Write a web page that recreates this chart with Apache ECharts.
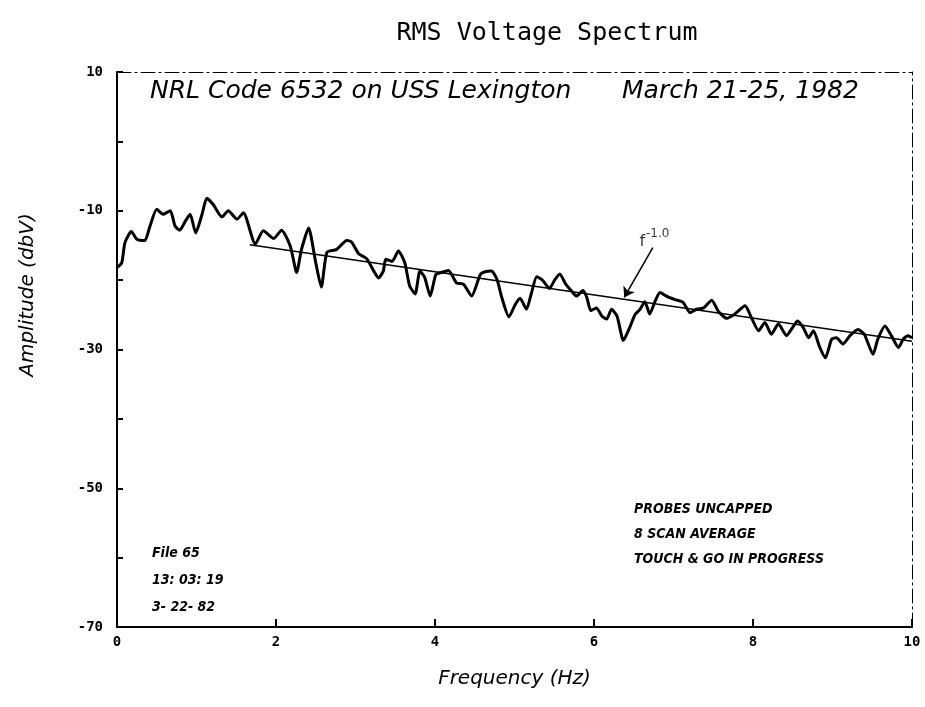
<!DOCTYPE html>
<html>
<head>
<meta charset="utf-8">
<script src="https://cdn.jsdelivr.net/npm/echarts@6/dist/echarts.min.js"></script>
<style>
  html, body { margin: 0; padding: 0; background: #fff; }
  #chart { width: 925px; height: 707px; }
</style>
</head>
<body>
<div id="chart"></div>
<script>
// spectrum: frequency (Hz) and amplitude (dBV)
const freqs = [
  0.00, 0.06, 0.10, 0.18, 0.25, 0.35, 0.41, 0.50, 0.58, 0.67,
  0.73, 0.79, 0.86, 0.92, 0.99, 1.07, 1.13, 1.21, 1.32, 1.40,
  1.51, 1.59, 1.74, 1.84, 1.97, 2.07, 2.18, 2.26, 2.32, 2.41,
  2.50, 2.57, 2.64, 2.76, 2.89, 2.95, 3.04, 3.14, 3.23, 3.29,
  3.35, 3.38, 3.46, 3.54, 3.62, 3.68, 3.75, 3.81, 3.87, 3.94,
  4.01, 4.08, 4.17, 4.27, 4.36, 4.46, 4.57, 4.63, 4.71, 4.78,
  4.84, 4.93, 5.01, 5.07, 5.15, 5.21, 5.28, 5.36, 5.44, 5.51,
  5.57, 5.64, 5.72, 5.78, 5.86, 5.91, 5.96, 6.03, 6.10, 6.16,
  6.22, 6.29, 6.37, 6.45, 6.52, 6.58, 6.64, 6.70, 6.77, 6.83,
  6.91, 7.02, 7.12, 7.21, 7.29, 7.38, 7.48, 7.57, 7.67, 7.77,
  7.90, 7.98, 8.07, 8.15, 8.23, 8.32, 8.42, 8.50, 8.56, 8.63,
  8.70, 8.76, 8.84, 8.91, 8.99, 9.05, 9.13, 9.22, 9.32, 9.40,
  9.51, 9.57, 9.66, 9.74, 9.83, 9.89, 9.95, 10.0
];
const amps = [
  -18.2, -17.5, -14.6, -13.0, -14.1, -14.3, -12.4, -9.8, -10.5, -10.0,
  -12.2, -12.8, -11.5, -10.5, -13.2, -10.5, -8.2, -9.1, -10.9, -10.0,
  -11.2, -10.3, -14.8, -12.9, -14.0, -12.8, -15.1, -18.9, -15.6, -12.5,
  -17.5, -21.0, -16.0, -15.6, -14.3, -14.5, -16.2, -16.9, -18.7, -19.7,
  -18.7, -17.0, -17.3, -15.8, -17.5, -20.8, -22.0, -18.7, -19.6, -22.3,
  -19.2, -18.9, -18.6, -20.4, -20.6, -22.3, -19.2, -18.8, -18.7, -19.9,
  -22.5, -25.3, -23.5, -22.6, -24.2, -22.0, -19.5, -20.1, -21.2, -19.9,
  -19.1, -20.5, -21.6, -22.3, -21.5, -22.5, -24.4, -24.0, -25.2, -25.6,
  -24.2, -25.2, -28.7, -26.8, -24.9, -24.2, -23.1, -24.9, -23.0, -21.8,
  -22.3, -22.8, -23.2, -24.7, -24.2, -24.0, -22.9, -24.6, -25.5, -24.9,
  -23.7, -25.4, -27.3, -26.1, -27.8, -26.3, -28.0, -26.8, -25.9, -26.8,
  -28.3, -27.3, -29.7, -31.2, -28.5, -28.3, -29.2, -28.0, -27.1, -27.8,
  -30.7, -28.5, -26.6, -28.0, -29.7, -28.5, -28.0, -28.3
];

// f^-1.0 reference line end points
const fitFreqs = [1.67, 10.0];
const fitAmps = [-14.9, -28.8];

// arrow pointing at the reference line, and its label anchor
const arrowFrom = [6.74, -15.3];
const arrowTo = [6.38, -22.5];
const fitLabelAt = [6.76, -14.0];

const xTicks = [0, 2, 4, 6, 8, 10];
const yLabels = [10, -10, -30, -50, -70];

const chart = echarts.init(document.getElementById('chart'));

const spectrum = freqs.map((f, i) => [f, amps[i]]);
const fitLine = fitFreqs.map((f, i) => [f, fitAmps[i]]);

const labelFont = { color: '#000', fontFamily: 'DejaVu Sans Mono', fontWeight: 'bold', fontSize: 14 };
const noteFont = 'italic bold 14px "Liberation Sans Narrow", "DejaVu Sans Condensed", sans-serif';
const dashBorder = { color: '#000', width: 1, type: [14, 4, 2, 4] };

const option = {
  backgroundColor: '#ffffff',
  animation: false,
  title: {
    text: 'RMS Voltage Spectrum',
    left: 542,
    top: 16,
    textAlign: 'center',
    textStyle: { color: '#000', fontFamily: 'DejaVu Sans Mono', fontWeight: 'normal', fontSize: 25 }
  },
  grid: { left: 117, right: 13, top: 72, bottom: 80 },
  xAxis: [
    {
      type: 'value',
      min: 0,
      max: 10,
      interval: 2,
      axisLine: { onZero: false, lineStyle: { color: '#000', width: 2 } },
      axisTick: { inside: true, length: 8, lineStyle: { color: '#000', width: 2 } },
      axisLabel: Object.assign({ margin: 8, formatter: v => xTicks.includes(v) ? String(v) : '' }, labelFont),
      splitLine: { show: false },
      name: 'Frequency (Hz)',
      nameLocation: 'middle',
      nameGap: 42,
      nameTextStyle: { color: '#000', fontFamily: 'DejaVu Sans', fontStyle: 'italic', fontSize: 20 }
    },
    {
      type: 'value',
      position: 'top',
      min: 0,
      max: 10,
      axisLine: { show: true, onZero: false, lineStyle: dashBorder },
      axisTick: { show: false },
      axisLabel: { show: false },
      splitLine: { show: false }
    }
  ],
  yAxis: [
    {
      type: 'value',
      min: -70,
      max: 10,
      interval: 10,
      axisLine: { show: true, onZero: false, lineStyle: { color: '#000', width: 2 } },
      axisTick: { show: true, inside: true, length: 6, lineStyle: { color: '#000', width: 2 } },
      axisLabel: Object.assign({ margin: 14, formatter: v => yLabels.includes(v) ? String(v) : '' }, labelFont),
      splitLine: { show: false }
    },
    {
      type: 'value',
      position: 'right',
      min: -70,
      max: 10,
      axisLine: { show: true, onZero: false, lineStyle: dashBorder },
      axisTick: { show: false },
      axisLabel: { show: false },
      splitLine: { show: false }
    }
  ],
  series: [
    {
      name: 'Spectrum',
      type: 'line',
      data: spectrum,
      smooth: 0.2,
      showSymbol: false,
      lineStyle: { color: '#000', width: 3 }
    },
    {
      name: 'f^-1.0',
      type: 'line',
      data: fitLine,
      showSymbol: false,
      lineStyle: { color: '#000', width: 1.5 },
      markLine: {
        silent: true,
        symbol: ['none', 'arrow'],
        symbolSize: 10,
        label: { show: false },
        lineStyle: { color: '#000', width: 1.5, type: 'solid' },
        data: [[{ coord: arrowFrom }, { coord: arrowTo }]]
      }
    },
    {
      name: 'fit label',
      type: 'scatter',
      data: [fitLabelAt],
      symbolSize: 0,
      label: {
        show: true,
        position: 'inside',
        formatter: '{f|f}{s|-1.0}',
        rich: {
          f: { fontFamily: 'DejaVu Sans', fontSize: 16, color: '#000', verticalAlign: 'bottom' },
          s: { fontFamily: 'DejaVu Sans', fontSize: 12, color: '#000', verticalAlign: 'top', padding: [0, 0, 10, 1] }
        }
      }
    }
  ],
  graphic: [
    {
      type: 'text',
      x: 28, y: 295,
      rotation: Math.PI / 2,
      style: { text: 'Amplitude (dbV)', font: 'italic 20px "DejaVu Sans"', fill: '#000', align: 'center', verticalAlign: 'middle' }
    },
    {
      type: 'text', left: 150, top: 79,
      style: { text: 'NRL Code 6532 on USS Lexington', font: 'italic 25px "DejaVu Sans"', fill: '#000' }
    },
    {
      type: 'text', left: 622, top: 79,
      style: { text: 'March 21-25, 1982', font: 'italic 25px "DejaVu Sans"', fill: '#000' }
    },
    { type: 'text', left: 634, top: 502, style: { text: 'PROBES UNCAPPED', font: noteFont, fill: '#000' } },
    { type: 'text', left: 634, top: 527, style: { text: '8 SCAN AVERAGE', font: noteFont, fill: '#000' } },
    { type: 'text', left: 634, top: 552, style: { text: 'TOUCH & GO IN PROGRESS', font: noteFont, fill: '#000' } },
    { type: 'text', left: 152, top: 546, style: { text: 'File 65', font: noteFont, fill: '#000' } },
    { type: 'text', left: 152, top: 573, style: { text: '13: 03: 19', font: noteFont, fill: '#000' } },
    { type: 'text', left: 152, top: 600, style: { text: '3- 22- 82', font: noteFont, fill: '#000' } }
  ]
};

chart.setOption(option);
</script>
</body>
</html>
